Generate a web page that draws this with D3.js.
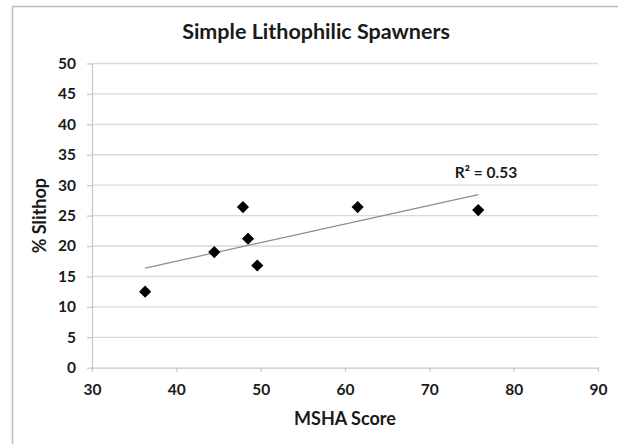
<!DOCTYPE html>
<html>
<head>
<meta charset="utf-8">
<script src="https://cdn.jsdelivr.net/npm/d3@7/dist/d3.min.js"></script>
<style>
  html, body { margin: 0; padding: 0; background: #fff; }
  svg { display: block; }
  text { font-family: Lato, "Open Sans", sans-serif; font-weight: bold; fill: #1a1a1a; }
</style>
</head>
<body>
<svg id="chart" width="618" height="444"></svg>
<script>
const title = "Simple Lithophilic Spawners";
const xTitle = "MSHA Score";
const yTitle = "% Slithop";
const rSquaredLabel = "R² = 0.53";
const mshaScore = [36.3, 44.5, 47.9, 48.5, 49.6, 61.5, 75.8];
const slithop = [12.5, 19.0, 26.4, 21.2, 16.8, 26.4, 25.9];
const xTicks = [30, 40, 50, 60, 70, 80, 90];
const yTicks = [0, 5, 10, 15, 20, 25, 30, 35, 40, 45, 50];

const svg = d3.select("#chart");
const W = 618, H = 444;
const plot = { left: 92, right: 598, top: 63.5, bottom: 367.7 };

// outer frame (top and left edges visible)
svg.append("path")
  .attr("d", `M12.5,${H} L12.5,6.5 L${W},6.5`)
  .attr("fill", "none").attr("stroke", "#bdbdbd").attr("stroke-width", 1.5);

const x = d3.scaleLinear().domain([30, 90]).range([plot.left, plot.right]);
const y = d3.scaleLinear().domain([0, 50]).range([plot.bottom, plot.top]);

// gridlines
svg.append("g").selectAll("line").data(yTicks.filter(d => d > 0)).join("line")
  .attr("x1", plot.left).attr("x2", plot.right)
  .attr("y1", d => y(d)).attr("y2", d => y(d))
  .attr("stroke", "#d9d9d9").attr("stroke-width", 1.3);

// y axis
const yAxis = svg.append("g").attr("transform", `translate(${plot.left},0)`)
  .call(d3.axisLeft(y).tickValues(yTicks).tickSize(5).tickPadding(11).tickSizeOuter(0));
yAxis.select(".domain").attr("stroke", "#c8c8c8").attr("stroke-width", 1.3);
yAxis.selectAll(".tick line").attr("stroke", "#c8c8c8").attr("stroke-width", 1.3);
yAxis.selectAll("text").attr("font-size", 15.5).attr("fill", "#1a1a1a")
  .style("font-family", "Lato, sans-serif").style("font-weight", "bold");

// x axis
const xAxis = svg.append("g").attr("transform", `translate(0,${plot.bottom})`)
  .call(d3.axisBottom(x).tickValues(xTicks).tickSize(4).tickPadding(12).tickSizeOuter(0));
xAxis.select(".domain").attr("stroke", "#c8c8c8").attr("stroke-width", 1.3);
xAxis.selectAll(".tick line").attr("stroke", "#c8c8c8").attr("stroke-width", 1.3);
xAxis.selectAll("text").attr("font-size", 15.5).attr("fill", "#1a1a1a")
  .style("font-family", "Lato, sans-serif").style("font-weight", "bold");

// linear trendline (least squares from the data)
const n = mshaScore.length;
const mx = d3.mean(mshaScore), my = d3.mean(slithop);
let sxy = 0, sxx = 0;
for (let i = 0; i < n; i++) { sxy += (mshaScore[i]-mx)*(slithop[i]-my); sxx += (mshaScore[i]-mx)**2; }
const slope = sxy / sxx, icpt = my - slope * mx;
const xMin = d3.min(mshaScore), xMax = d3.max(mshaScore);
svg.append("line")
  .attr("x1", x(xMin)).attr("y1", y(icpt + slope * xMin))
  .attr("x2", x(xMax)).attr("y2", y(icpt + slope * xMax))
  .attr("stroke", "#8c8c8c").attr("stroke-width", 1.2);

// points (diamonds)
const diamond = d3.symbol().type(d3.symbolSquare).size(74);
svg.append("g").selectAll("path").data(mshaScore.map((v, i) => [v, slithop[i]])).join("path")
  .attr("d", diamond)
  .attr("transform", d => `translate(${x(d[0])},${y(d[1])}) rotate(45)`)
  .attr("fill", "#000");

// R² label
svg.append("text").attr("x", 486).attr("y", 178).attr("text-anchor", "middle")
  .attr("font-size", 15.5).text(rSquaredLabel);

// titles
svg.append("text").attr("x", 316).attr("y", 39).attr("text-anchor", "middle")
  .attr("font-size", 21.5).text(title);
svg.append("text").attr("x", (plot.left + plot.right) / 2).attr("y", 425).attr("text-anchor", "middle")
  .attr("font-size", 18).text(xTitle);
svg.append("text").attr("transform", `translate(46,${(plot.top + plot.bottom) / 2}) rotate(-90)`)
  .attr("text-anchor", "middle").attr("font-size", 18).text(yTitle);
</script>
</body>
</html>
